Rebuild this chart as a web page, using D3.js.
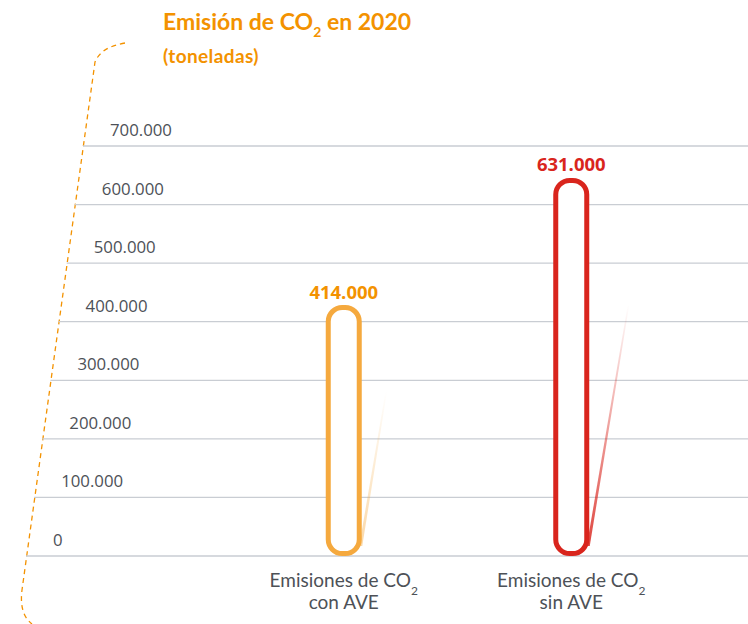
<!DOCTYPE html>
<html>
<head>
<meta charset="utf-8">
<script src="https://cdn.jsdelivr.net/npm/d3@7"></script>
<style>
  body { margin: 0; background: #fff; }
  svg { display: block; }
</style>
</head>
<body>
<div id="chart"></div>
<script>
const categories = ["con AVE", "sin AVE"];
const values = [414000, 631000];
const valueLabels = ["414.000", "631.000"];
const barColors = ["#F5A93E", "#D9251D"];
const labelColors = ["#F39200", "#D9251D"];
const ticks = [0, 100000, 200000, 300000, 400000, 500000, 600000, 700000];
const tickLabels = ["0", "100.000", "200.000", "300.000", "400.000", "500.000", "600.000", "700.000"];

const width = 748, height = 624;
const orange = "#F39200";
const gray = "#4d5157";

const svg = d3.select("#chart")
    .append("svg")
    .attr("width", width)
    .attr("height", height);

const yScale = d3.scaleLinear().domain([0, 700000]).range([556, 146]);
const xScale = d3.scaleBand().domain(categories).range([230, 685]);

// the left edge leans with the dashed curve
const lean = y => (556 - y) * 0.139;

// dashed frame on the left
svg.append("path")
    .attr("d", "M125,43 Q101,47 95,62 L22,590 Q19,614 32,624")
    .attr("fill", "none")
    .attr("stroke", orange)
    .attr("stroke-width", 1.3)
    .attr("stroke-dasharray", "5,4");

// grid
svg.selectAll("line.grid")
    .data(ticks)
    .enter()
    .append("line")
    .attr("class", "grid")
    .attr("x1", d => 26 + lean(yScale(d)))
    .attr("x2", width)
    .attr("y1", d => yScale(d))
    .attr("y2", d => yScale(d))
    .attr("stroke", "#c9cdd3")
    .attr("stroke-width", 1.3);

svg.selectAll("text.tick")
    .data(ticks)
    .enter()
    .append("text")
    .attr("class", "tick")
    .attr("x", d => 53 + lean(yScale(d)))
    .attr("y", d => yScale(d) - 10)
    .attr("fill", gray)
    .attr("font-family", "Open Sans")
    .attr("font-size", 16.8)
    .text((d, i) => tickLabels[i]);

// fading streaks next to bars
const defs = svg.append("defs");
const streakOpacity = [0.45, 0.85];
categories.forEach((c, i) => {
    const g = defs.append("linearGradient")
        .attr("id", "fade" + i)
        .attr("x1", 0).attr("y1", 1).attr("x2", 0).attr("y2", 0);
    g.append("stop").attr("offset", 0).attr("stop-color", barColors[i]).attr("stop-opacity", streakOpacity[i]);
    g.append("stop").attr("offset", 1).attr("stop-color", barColors[i]).attr("stop-opacity", 0);
});

const barW = 31;
svg.selectAll("path.streak")
    .data(values)
    .enter()
    .append("path")
    .attr("class", "streak")
    .attr("d", (d, i) => {
        const x0 = xScale(categories[i]) + xScale.bandwidth() / 2 + barW / 2;
        const y0 = yScale(0) - 10;
        const y1 = yScale(d * 0.68);
        const x1 = x0 + (y0 - y1) * 0.17;
        return `M${x0},${y0} L${x1},${y1} L${x1 + 1.5},${y1} L${x0 + 3},${y0} Z`;
    })
    .attr("fill", (d, i) => `url(#fade${i})`);

// bars (outlined capsules)
svg.selectAll("rect.bar")
    .data(values)
    .enter()
    .append("rect")
    .attr("class", "bar")
    .attr("x", (d, i) => xScale(categories[i]) + xScale.bandwidth() / 2 - barW / 2)
    .attr("y", d => yScale(d) - 6)
    .attr("width", barW)
    .attr("height", d => yScale(0) - 2.5 - (yScale(d) - 6))
    .attr("rx", 14)
    .attr("ry", 14)
    .attr("fill", "#fff")
    .attr("stroke", (d, i) => barColors[i])
    .attr("stroke-width", 5);

svg.selectAll("text.value")
    .data(values)
    .enter()
    .append("text")
    .attr("class", "value")
    .attr("x", (d, i) => xScale(categories[i]) + xScale.bandwidth() / 2)
    .attr("y", d => yScale(d) - 15)
    .attr("text-anchor", "middle")
    .attr("fill", (d, i) => labelColors[i])
    .attr("font-family", "Open Sans")
    .attr("font-weight", "bold")
    .attr("font-size", 18.5)
    .text((d, i) => valueLabels[i]);

// category labels
categories.forEach(c => {
    const cx = xScale(c) + xScale.bandwidth() / 2;
    const t = svg.append("text")
        .attr("x", cx)
        .attr("y", 587)
        .attr("text-anchor", "middle")
        .attr("fill", gray)
        .attr("font-family", "Lato")
        .attr("font-size", 19);
    t.append("tspan").text("Emisiones de CO");
    t.append("tspan").attr("font-size", 12).attr("dy", 8).text("2");
    svg.append("text")
        .attr("x", cx)
        .attr("y", 609)
        .attr("text-anchor", "middle")
        .attr("fill", gray)
        .attr("font-family", "Lato")
        .attr("font-size", 19)
        .text(c);
});

// title
const title = svg.append("text")
    .attr("x", 163)
    .attr("y", 30)
    .attr("fill", orange)
    .attr("font-family", "Lato")
    .attr("font-weight", "bold")
    .attr("font-size", 23);
title.append("tspan").text("Emisión de CO");
title.append("tspan").attr("font-size", 14).attr("dy", 7).text("2");
title.append("tspan").attr("dy", -7).text(" en 2020");

svg.append("text")
    .attr("x", 163)
    .attr("y", 63)
    .attr("fill", orange)
    .attr("font-family", "Lato")
    .attr("font-weight", "bold")
    .attr("font-size", 19)
    .attr("letter-spacing", 0.4)
    .text("(toneladas)");
</script>
</body>
</html>
